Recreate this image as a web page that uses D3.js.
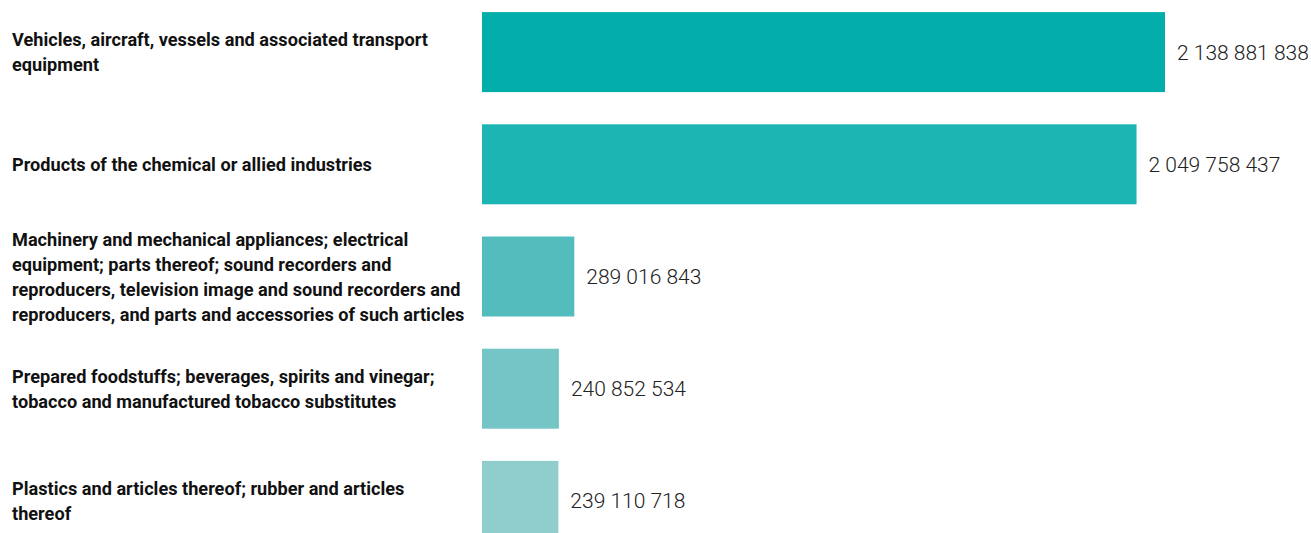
<!DOCTYPE html>
<html><head><meta charset="utf-8">
<script src="https://cdn.jsdelivr.net/npm/d3@7"></script>
<style>
html,body{margin:0;padding:0;background:#fff;}
svg{display:block;}
</style></head>
<body>
<svg id="chart" width="1311" height="533"></svg>
<script>
const categories = [
  "Vehicles, aircraft, vessels and associated transport\nequipment",
  "Products of the chemical or allied industries",
  "Machinery and mechanical appliances; electrical\nequipment; parts thereof; sound recorders and\nreproducers, television image and sound recorders and\nreproducers, and parts and accessories of such articles",
  "Prepared foodstuffs; beverages, spirits and vinegar;\ntobacco and manufactured tobacco substitutes",
  "Plastics and articles thereof; rubber and articles\nthereof"
];
const values = [2138881838, 2049758437, 289016843, 240852534, 239110718];
const colors = ["#03ADA9", "#1DB5B4", "#53BDBD", "#75C5C6", "#90CDCD"];

const svg = d3.select("#chart");
const barX0 = 482;
const x = d3.scaleLinear().domain([0, d3.max(values)]).range([0, 683]);
const y = d3.scaleBand().domain(d3.range(categories.length)).range([-4, 557])
  .paddingInner(0.287).paddingOuter(0.1435);
const fmt = v => d3.format(",")(v).replace(/,/g, " ");

const g = svg.append("g");
g.selectAll("rect").data(values).join("rect")
  .attr("x", barX0)
  .attr("y", (d, i) => y(i))
  .attr("width", d => x(d))
  .attr("height", y.bandwidth())
  .attr("fill", (d, i) => colors[i]);

g.selectAll("text.val").data(values).join("text")
  .attr("class", "val")
  .attr("x", d => barX0 + x(d) + 12)
  .attr("y", (d, i) => y(i) + y.bandwidth() / 2)
  .attr("dy", "0.36em")
  .attr("font-family", "Roboto, sans-serif")
  .attr("font-weight", 300)
  .attr("font-size", 21)
  .attr("fill", "#222")
  .text(d => fmt(d));

// category labels (condensed bold)
const lab = g.append("g");
const lineH = 25;
const texts = lab.selectAll("text.cat").data(categories).join("text")
  .attr("class", "cat")
  .attr("font-family", "Roboto, sans-serif")
  .attr("font-weight", 700)
  .attr("font-size", 19)
  .attr("fill", "#111");
texts.each(function(d, i) {
  const lines = d.split("\n");
  const cy = y(i) + y.bandwidth() / 2;
  const t = d3.select(this);
  lines.forEach((ln, j) => {
    t.append("tspan").attr("y", cy + (j - (lines.length - 1) / 2) * lineH).attr("dy", "0.35em").text(ln);
  });
});
// compress horizontally to mimic a condensed face
const refW = texts.filter((d, i) => i === 0).select("tspan").node().getComputedTextLength();
const k = 416 / refW;
texts.attr("transform", `scale(${k},1)`);
texts.selectAll("tspan").attr("x", 12 / k);
</script>
</body></html>
